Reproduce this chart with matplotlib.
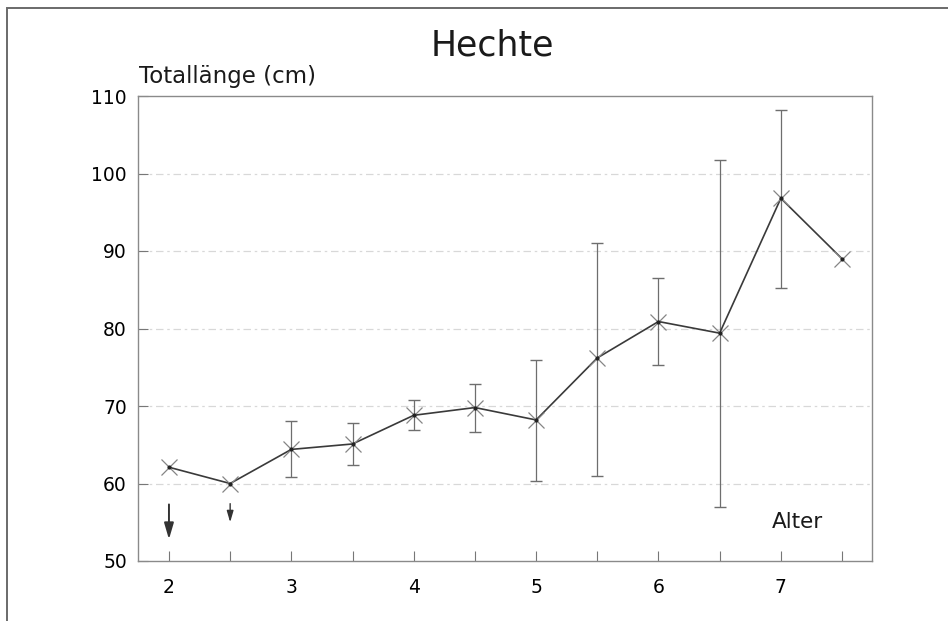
import numpy as np
import matplotlib
matplotlib.use("Agg")
import matplotlib.pyplot as plt
from matplotlib.patches import Rectangle
from matplotlib.ticker import MultipleLocator

plt.rcParams["font.family"] = ["DejaVu Sans"]

# ── data ──────────────────────────────────────────────────
alter  = [2.0, 2.5, 3.0, 3.5, 4.0, 4.5, 5.0, 5.5, 6.0, 6.5, 7.0, 7.5]
laenge = [62.1, 60.0, 64.4, 65.1, 68.8, 69.8, 68.2, 76.2, 80.9, 79.4, 96.8, 89.0]
err_hi = [np.nan, np.nan, 68.1, 67.8, 70.8, 72.8, 76.0, 91.0, 86.5, 101.8, 108.2, np.nan]
err_lo = [np.nan, np.nan, 60.8, 62.4, 66.9, 66.7, 60.3, 61.0, 75.3, 57.0, 85.2, np.nan]

# arrows under the first two points (x, y start, y end)
arrow_x     = [2.0, 2.5]
arrow_start = [57.3, 57.4]
arrow_end   = [52.8, 55.0]
arrow_width = [1.4, 1.0]
arrow_scale = [13, 9]

grid_levels = [60, 70, 80, 90, 100]

fig = plt.figure(figsize=(9.48, 6.21), dpi=100)
ax = fig.add_axes([138/948, 60/621, 734/948, 465/621])

# frame around the whole picture
fig.add_artist(Rectangle((7/948, -0.02), 1.05, 0.987 + 0.02,
                         transform=fig.transFigure, fill=False,
                         edgecolor="#6a6a6a", lw=1.4))

# dashed grid lines
for g in grid_levels:
    ax.axhline(g, color="#d8d8d8", lw=0.9, ls=(0, (6, 3, 2, 3)), zorder=0)

# error bars
x  = np.array(alter)
hi = np.array(err_hi); lo = np.array(err_lo); y = np.array(laenge)
m  = ~np.isnan(hi)
ax.errorbar(x[m], y[m], yerr=[y[m] - lo[m], hi[m] - y[m]], fmt="none",
            ecolor="#6e6e6e", elinewidth=0.9, capsize=4.5, capthick=1.0, zorder=2)

# line + markers
ax.plot(x, y, color="#3a3a3a", lw=1.2, zorder=3)
ax.plot(x, y, ls="none", marker="x", ms=12, mew=0.9, color="#858585", zorder=4)
ax.plot(x, y, ls="none", marker="o", ms=2, color="#222222", zorder=5)

for xa, ys, ye, w, sc in zip(arrow_x, arrow_start, arrow_end, arrow_width, arrow_scale):
    ax.annotate("", xy=(xa, ye), xytext=(xa, ys),
                arrowprops=dict(arrowstyle="-|>,head_length=0.75,head_width=0.22",
                                color="#333333", lw=w,
                                mutation_scale=sc, shrinkA=0, shrinkB=0))

ax.set_xlim(1.747, 7.745)
ax.set_ylim(50, 110)
ax.xaxis.set_major_locator(MultipleLocator(1))
ax.xaxis.set_minor_locator(MultipleLocator(0.5))
ax.yaxis.set_major_locator(MultipleLocator(10))
ax.tick_params(axis="x", which="both", direction="in", length=7, width=0.8,
               color="#777777", labelsize=13.5, pad=12, top=False)
ax.tick_params(axis="y", which="both", direction="in", length=7, width=0.8,
               color="#777777", labelsize=13.5, pad=8, right=False)
ax.tick_params(axis="x", which="minor", length=7)
for s in ax.spines.values():
    s.set_color("#8a8a8a")
    s.set_linewidth(1.0)

ax.text(0.899, 0.084, "Alter", transform=ax.transAxes, ha="center",
        va="center", fontsize=15.5, color="#1a1a1a")
fig.text(139/948, 1 - 83/621, "Totallänge (cm)", ha="left", va="baseline",
         fontsize=16.5, color="#1a1a1a")
fig.text(492/948, 1 - 56/621, "Hechte", ha="center", va="baseline",
         fontsize=25, color="#1a1a1a")

fig.savefig("out.png", dpi=100)
